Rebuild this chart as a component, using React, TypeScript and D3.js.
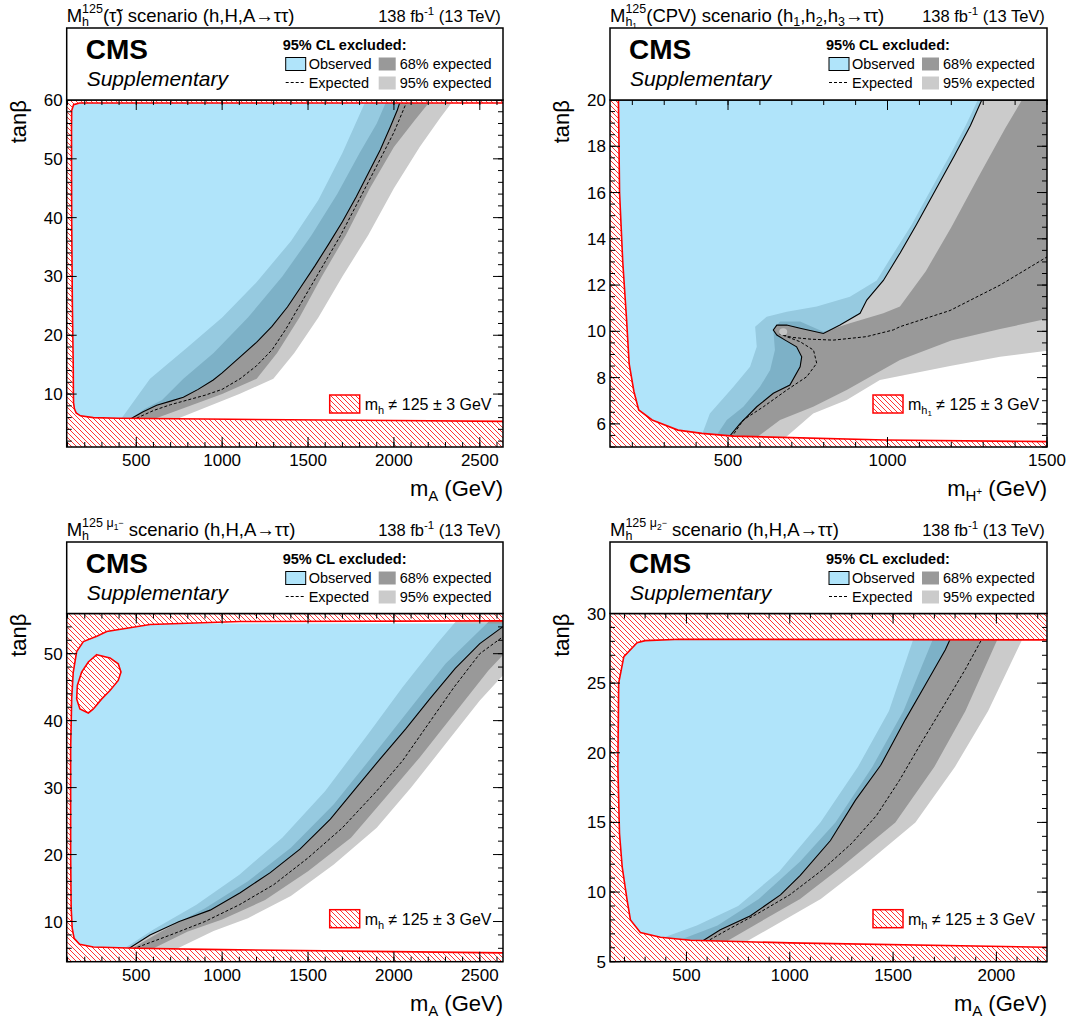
import React from "react";
import * as d3 from "d3";

type P = [number, number];

const FONT = "'Liberation Sans', Arial, Helvetica, sans-serif";
const C95 = "#cbcbcb";
const C68 = "#999999";
const OBS = "rgb(97,201,245)";
const OBS_A = 0.5;
const RED = "#ff0000";

// ---------- Panel A : Mh125(tau~) ----------
const aXTicks = [500, 1000, 1500, 2000, 2500];
const aYTicks = [10, 20, 30, 40, 50, 60];
const aObs: P[] = [[473,5.9],[540,7.0],[619,8.1],[700,8.8],[774,9.45],[860,10.8],[948,12.4],[1000,13.6],[1100,16.2],[1200,18.8],[1290,21.5],[1380,24.8],[1460,28.3],[1540,31.8],[1620,35.5],[1700,39.3],[1780,43.5],[1850,47.5],[1920,51.5],[1980,55.5],[2020,58.3],[2041,60.2]];
const aExp: P[] = [[502,5.9],[600,7.2],[700,8.2],[800,9],[900,9.8],[1000,10.8],[1104,12.6],[1200,14.8],[1290,17.5],[1370,21],[1450,25],[1530,29],[1610,33],[1690,37],[1770,41.5],[1850,46],[1930,50.5],[2000,54.5],[2082,60.2]];
const a68Lo: P[] = [[452,5.5],[550,7.5],[650,9.0],[774,12.6],[950,17],[1150,23],[1350,30],[1520,37],[1670,44],[1800,51],[1900,56],[1962,60.2]];
const a68Hi: P[] = [[580,5.5],[1000,10],[1201,12.6],[1320,17],[1450,23],[1580,30],[1720,37],[1860,45],[2000,52],[2120,56.5],[2222,60.2]];
const a95Lo: P[] = [[405,5.5],[580,12.6],[800,18],[1000,23],[1200,29],[1400,36],[1560,43],[1700,51],[1841,60.2]];
const a95Hi: P[] = [[714,5.5],[1100,10],[1298,12.6],[1420,17],[1560,23],[1700,30],[1850,37],[2000,45],[2150,52],[2270,57],[2353,60.2]];
const aAllowed: P[] = [[2700,59.5],[170,59.5],[135,59.2],[124,58.2],[123,55],[124,40],[128,25],[133,15],[134,10],[135,8.5],[140,7.5],[150,6.8],[175,6.3],[250,6.0],[400,5.9],[900,5.75],[2000,5.5],[2700,5.35]];

// ---------- Panel B : Mh1125(CPV) ----------
const bXTicks = [500, 1000, 1500];
const bYTicks = [6, 8, 10, 12, 14, 16, 18, 20];
const bObs: P[] = [[501,5.4],[537,6.0],[590,6.74],[642,7.32],[694,7.68],[726,8.47],[731,8.9],[715,9.33],[679,9.62],[653,9.84],[642,10.06],[653,10.27],[684,10.27],[726,10.13],[799,9.91],[851,10.27],[914,10.78],[935,11.35],[987,12.2],[1040,13.4],[1090,14.6],[1150,16.1],[1210,17.6],[1260,18.9],[1302,20.2]];
const bExp: P[] = [[510,5.4],[548,6.17],[611,6.74],[684,7.46],[747,8.04],[778,8.62],[768,9.19],[726,9.55],[684,9.77],[662,9.88],[700,9.74],[760,9.66],[830,9.62],[934,9.77],[1018,10.06],[1039,10.2],[1196,10.9],[1353,12],[1510,13.3]];
const b68Lo: P[] = [[454,5.3],[496,6.17],[548,6.74],[600,7.6],[632,8.33],[647,9.19],[642,10.06],[663,10.42],[726,10.42],[799,9.98],[882,10.35],[987,10.78],[1039,11.07],[1120,12.6],[1200,14.5],[1290,16.8],[1370,18.8],[1430,20.2]];
const b68Hi: P[] = [[569,5.2],[663,6.17],[767,6.74],[872,7.46],[1039,8.76],[1200,9.6],[1353,10.1],[1520,10.6],[1600,21]];
const b95Lo: P[] = [[412,5.3],[443,6.45],[517,7.6],[569,8.47],[590,9.33],[585,10.2],[621,10.63],[684,10.85],[778,11.07],[882,11.5],[966,12.2],[1020,13.4],[1075,14.6],[1135,16.1],[1195,17.6],[1245,18.9],[1290,20.2]];
const b95Hi: P[] = [[663,5.2],[767,6.45],[872,7.03],[976,7.9],[1196,8.5],[1353,8.9],[1520,9.2],[1600,21]];
const bAllowed: P[] = [[1600,20.5],[156,20.5],[160,16],[170,13],[182,10.5],[190,8.6],[205,7.4],[220,6.6],[262,6.17],[343,5.73],[418,5.59],[517,5.47],[993,5.3],[1600,5.22]];
const bSpot: P[] = [[673,9.98]];

// ---------- Panel C : Mh125 mu1- ----------
const cXTicks = [500, 1000, 1500, 2000, 2500];
const cYTicks = [10, 20, 30, 40, 50];
const cObs: P[] = [[452,5.9],[580,8],[750,10],[930,11.7],[1105,14.3],[1280,17.3],[1453,20.8],[1630,25.3],[1775,29.8],[1920,34.3],[2070,38.8],[2210,43.3],[2357,47.8],[2500,51.5],[2660,54.5]];
const cExp: P[] = [[480,5.9],[700,8],[900,10],[1100,12.5],[1300,15.5],[1500,19.5],[1700,24],[1900,29.5],[2050,34],[2200,39.5],[2350,45],[2500,50],[2660,53]];
const c68Lo: P[] = [[440,5.5],[650,8.6],[900,12],[1150,16],[1400,21],[1650,27.5],[1900,35.5],[2100,42],[2300,48.5],[2500,53.5],[2600,56]];
const c68Hi: P[] = [[560,5.5],[800,8.5],[1000,10.3],[1250,13.2],[1500,17.5],[1750,22.5],[1950,28.5],[2150,34.5],[2350,41],[2550,47.5],[2660,50.5],[2700,57]];
const c95Lo: P[] = [[400,5.5],[600,8.8],[850,12.5],[1100,17],[1350,22.5],[1600,29.5],[1850,38],[2050,45],[2250,51.5],[2400,56]];
const c95Hi: P[] = [[700,5.5],[950,8.6],[1150,10.5],[1400,13.8],[1650,18.5],[1900,24],[2100,30],[2300,36.5],[2500,43],[2660,47.5],[2700,57]];
const cAllowed: P[] = [[2700,54.9],[1105,54.8],[580,54.35],[328,53.3],[270,52.6],[192,51.8],[153,50.3],[133,47.2],[124,43.3],[118,35.8],[118,20],[121,12],[127,9],[138,7.5],[170,6.6],[250,6.2],[500,6.0],[1000,5.8],[2000,5.5],[2700,5.3]];
const cIsland: P[] = [[270,49.85],[347,49.36],[395,48.5],[411,47.26],[395,46],[347,44.5],[299,43.25],[250,41.75],[221,41.15],[172,41.75],[153,43.25],[157,45.25],[182,47.26],[221,48.76]];

// ---------- Panel D : Mh125 mu2- ----------
const dXTicks = [500, 1000, 1500, 2000];
const dYTicks = [5, 10, 15, 20, 25, 30];
const dObs: P[] = [[568,6.4],[664,7.3],[810,8.3],[955,9.8],[1051,11.2],[1197,13.7],[1318,16.6],[1440,19.1],[1560,22.4],[1657,24.9],[1753,27.4],[1790,28.6]];
const dExp: P[] = [[592,6.4],[700,7.3],[850,8.5],[1000,9.8],[1150,11.5],[1300,13.5],[1420,15.5],[1530,18],[1640,20.8],[1750,23.5],[1850,26],[1946,28.6]];
const d68Lo: P[] = [[423,6.3],[650,7.6],[850,9.5],[1050,12.2],[1221,15],[1400,19],[1550,23],[1705,28.6]];
const d68Hi: P[] = [[664,6.2],[850,7.8],[1050,9.5],[1250,11.8],[1511,15],[1700,19],[1850,23],[2019,28.6]];
const d95Lo: P[] = [[326,6.4],[550,7.6],[750,9],[950,11.5],[1148,15],[1330,19],[1480,23],[1608,28.6]];
const d95Hi: P[] = [[761,6.2],[950,7.8],[1150,9.5],[1350,11.8],[1608,15],[1800,19],[1960,23],[2140,28.6]];
const dAllowed: P[] = [[2400,28.1],[471,28.15],[300,28.05],[261,27.9],[197,26.9],[172,25],[168,19],[176,14.2],[189,11.8],[213,9.4],[229,8.0],[277,7.1],[374,6.76],[519,6.54],[1000,6.35],[2400,6.0]];

// ---------- text metrics (Arial/Liberation Sans) ----------
const WID: Record<string, number> = {
  "0": .556, "1": .556, "2": .556, "3": .556, "4": .556, "5": .556, "6": .556, "7": .556, "8": .556, "9": .556,
  " ": .278, "(": .333, ")": .333, ",": .278, "M": .833, "H": .722, "A": .667, "C": .722, "P": .667, "V": .667,
  "T": .611, "G": .778, "e": .556, "s": .5, "c": .5, "n": .556, "a": .556, "r": .333, "i": .222, "o": .556,
  "h": .556, "m": .833, "f": .278, "b": .556, "τ": .46, "→": 1.0, "≠": .584, "±": .584, "−": .584, "+": .584,
  "μ": .576, "-": .333, "\u0303": 0,
};
const tw = (s: string, size: number) => { let w = 0; for (const ch of s) w += (WID[ch] ?? .556); return w * size; };

type Txt = { t: string; s: number; dy?: number };
type Grp = { up: Seg[]; down: Seg[] };
type Seg = Txt | Grp;
type Item = { t: string; s: number; dy: number; x: number };

function place(segs: Seg[], start: number, out: Item[]): number {
  let cx = start;
  for (const g of segs) {
    if ("up" in g) {
      const a = place(g.up, cx, out);
      const b = place(g.down, cx, out);
      cx = Math.max(a, b);
    } else {
      out.push({ t: g.t, s: g.s, dy: g.dy || 0, x: cx });
      cx += tw(g.t, g.s);
    }
  }
  return cx;
}

function Rich({ x, y, segs, anchor = "start" }: { x: number; y: number; segs: Seg[]; anchor?: string }) {
  const items: Item[] = [];
  const total = place(segs, 0, items);
  const x0 = anchor === "end" ? x - total : anchor === "middle" ? x - total / 2 : x;
  return (
    <g>
      {items.map((it, i) => (
        <text key={i} x={x0 + it.x} y={y + it.dy} fontSize={it.s} fontFamily={FONT} style={{ whiteSpace: "pre" }}>{it.t}</text>
      ))}
    </g>
  );
}

interface Cfg {
  id: string; left: number; right: number; top: number; bottom: number; boxTop: number;
  xDomain: [number, number]; yDomain: [number, number];
  xTicks: number[]; xMinor: number; yTicks: number[]; yMinor: number;
  obs: P[]; exp: P[]; b68: [P[], P[]]; b95: [P[], P[]]; allowed: P[]; islands: P[][]; spots: P[];
  title: Seg[]; xTitle: Seg[]; hatchLabel: Seg[];
}

function Panel({ c }: { c: Cfg }) {
  const x = d3.scaleLinear().domain(c.xDomain).range([c.left, c.right]);
  const y = d3.scaleLinear().domain(c.yDomain).range([c.bottom, c.top]);
  const line = d3.line<P>().x(d => x(d[0])).y(d => y(d[1]));
  const ring = (pts: P[]) => (line(pts) || "") + "Z";
  const [x0, x1] = c.xDomain; const [y0, y1] = c.yDomain;
  const band = (lo: P[], hi: P[]) => ring([...lo, ...hi.slice().reverse()]);
  const last = c.obs[c.obs.length - 1];
  const obsPoly = ring([...c.obs, [x0 - 100, last[1]], [x0 - 100, y0 - 2]]);
  const rect = `M${c.left},${c.top}H${c.right}V${c.bottom}H${c.left}Z`;
  const hatchPath = rect + ring(c.allowed) + c.islands.map(ring).join("");
  const clip = `clip-${c.id}`;
  const xMinorTicks = d3.range(Math.ceil(x0 / c.xMinor) * c.xMinor, x1 + 1e-9, c.xMinor);
  const yMinorTicks = d3.range(Math.ceil(y0 / c.yMinor - 1e-9) * c.yMinor, y1 + 1e-9, c.yMinor);
  const L = c.left;
  const bt = c.boxTop;
  return (
    <g>
      <defs>
        <clipPath id={clip}><rect x={c.left} y={c.top} width={c.right - c.left} height={c.bottom - c.top} /></clipPath>
      </defs>
      <g clipPath={`url(#${clip})`}>
        <rect x={c.left} y={c.top} width={c.right - c.left} height={c.bottom - c.top} fill="#fff" />
        <path d={band(c.b95[0], c.b95[1])} fill={C95} />
        <path d={band(c.b68[0], c.b68[1])} fill={C68} />
        <path d={obsPoly} fill={OBS} fillOpacity={OBS_A} />
        <path d={line(c.obs) || ""} fill="none" stroke="#000" strokeWidth={1.1} />
        <path d={line(c.exp) || ""} fill="none" stroke="#000" strokeWidth={1} strokeDasharray="3,2" />
        {c.spots.map((s, i) => <ellipse key={i} cx={x(s[0])} cy={y(s[1])} rx={4} ry={3.5} fill="#c4c4c4" />)}
        <path d={hatchPath} fill="url(#hatch)" fillRule="evenodd" />
        <path d={ring(c.allowed)} fill="none" stroke={RED} strokeWidth={1.6} />
        {c.islands.map((isl, i) => <path key={i} d={ring(isl)} fill="none" stroke={RED} strokeWidth={1.6} />)}
      </g>
      <g stroke="#000" strokeWidth={1}>
        {xMinorTicks.map(v => (
          <g key={"xm" + v}>
            <line x1={x(v)} x2={x(v)} y1={c.bottom} y2={c.bottom - 5} />
            <line x1={x(v)} x2={x(v)} y1={c.top} y2={c.top + 5} />
          </g>
        ))}
        {c.xTicks.map(v => (
          <g key={"xM" + v}>
            <line x1={x(v)} x2={x(v)} y1={c.bottom} y2={c.bottom - 10} />
            <line x1={x(v)} x2={x(v)} y1={c.top} y2={c.top + 10} />
          </g>
        ))}
        {yMinorTicks.map(v => (
          <g key={"ym" + v}>
            <line x1={c.left} x2={c.left + 5} y1={y(v)} y2={y(v)} />
            <line x1={c.right} x2={c.right - 5} y1={y(v)} y2={y(v)} />
          </g>
        ))}
        {c.yTicks.map(v => (
          <g key={"yM" + v}>
            <line x1={c.left} x2={c.left + 10} y1={y(v)} y2={y(v)} />
            <line x1={c.right} x2={c.right - 10} y1={y(v)} y2={y(v)} />
          </g>
        ))}
      </g>
      <rect x={c.left} y={c.top} width={c.right - c.left} height={c.bottom - c.top} fill="none" stroke="#000" strokeWidth={1.5} />
      {c.xTicks.map(v => (
        <text key={"xl" + v} x={x(v)} y={c.bottom + 19} textAnchor="middle" fontSize={17} fontFamily={FONT}>{v}</text>
      ))}
      {c.yTicks.map(v => (
        <text key={"yl" + v} x={c.left - 4} y={y(v) + 6} textAnchor="end" fontSize={17} fontFamily={FONT}>{v}</text>
      ))}
      <text transform={`translate(${c.left - 41},${c.top}) rotate(-90)`} textAnchor="end" fontSize={22} fontFamily={FONT}>tanβ</text>
      <Rich x={c.right} y={c.bottom + 49} segs={c.xTitle} anchor="end" />
      <Rich x={c.left} y={bt - 6.5} segs={c.title} />
      <Rich x={c.right} y={bt - 6.5} anchor="end" segs={[{ t: "138 fb", s: 16.5 }, { t: "-1", s: 11.5, dy: -7 }, { t: " (13 TeV)", s: 16.5 }]} />
      <rect x={c.left} y={bt} width={c.right - c.left} height={c.top - bt} fill="#fff" stroke="#000" strokeWidth={1.5} />
      <text x={L + 19} y={bt + 31} fontSize={28} fontWeight="bold" fontFamily={FONT}>CMS</text>
      <text x={L + 20} y={bt + 58} fontSize={21} fontStyle="italic" fontFamily={FONT}>Supplementary</text>
      <text x={L + 216} y={bt + 21.5} fontSize={14.5} fontWeight="bold" fontFamily={FONT}>95% CL excluded:</text>
      <rect x={L + 219} y={bt + 29.5} width={20} height={13} fill={OBS} fillOpacity={OBS_A} stroke="#000" strokeWidth={1} />
      <text x={L + 242} y={bt + 40.5} fontSize={14.5} fontFamily={FONT}>Observed</text>
      <line x1={L + 219} x2={L + 239} y1={bt + 54.5} y2={bt + 54.5} stroke="#000" strokeWidth={1} strokeDasharray="3,2" />
      <text x={L + 242} y={bt + 59.5} fontSize={14.5} fontFamily={FONT}>Expected</text>
      <rect x={L + 312} y={bt + 29.5} width={17} height={13} fill={C68} />
      <text x={L + 333} y={bt + 40.5} fontSize={14.5} fontFamily={FONT}>68% expected</text>
      <rect x={L + 312} y={bt + 48.5} width={17} height={13} fill={C95} />
      <text x={L + 333} y={bt + 59.5} fontSize={14.5} fontFamily={FONT}>95% expected</text>
      <rect x={L + 263} y={c.bottom - 52} width={30} height={18} fill="url(#hatch)" stroke={RED} strokeWidth={1.5} />
      <Rich x={L + 298} y={c.bottom - 37} segs={c.hatchLabel} />
    </g>
  );
}

const TS = 18.5, SS = 12.5;
const titleA: Seg[] = [{ t: "M", s: TS }, { up: [{ t: "125", s: SS, dy: -8.5 }], down: [{ t: "h", s: SS, dy: 4.5 }] }, { t: "(τ\u0303) scenario (h,H,A→ττ)", s: TS }];
const titleB: Seg[] = [{ t: "M", s: TS }, { up: [{ t: "125", s: SS, dy: -8.5 }], down: [{ t: "h", s: SS, dy: 4.5 }, { t: "1", s: 8.5, dy: 7 }] }, { t: "(CPV) scenario (h", s: TS }, { t: "1", s: SS, dy: 4.5 }, { t: ",h", s: TS }, { t: "2", s: SS, dy: 4.5 }, { t: ",h", s: TS }, { t: "3", s: SS, dy: 4.5 }, { t: "→ττ)", s: TS }];
const titleC: Seg[] = [{ t: "M", s: TS }, { up: [{ t: "125 μ", s: SS, dy: -8.5 }, { t: "1", s: 8.5, dy: -5.5 }, { t: "−", s: 9, dy: -10 }], down: [{ t: "h", s: SS, dy: 4.5 }] }, { t: " scenario (h,H,A→ττ)", s: TS }];
const titleD: Seg[] = [{ t: "M", s: TS }, { up: [{ t: "125 μ", s: SS, dy: -8.5 }, { t: "2", s: 8.5, dy: -5.5 }, { t: "−", s: 9, dy: -10 }], down: [{ t: "h", s: SS, dy: 4.5 }] }, { t: " scenario (h,H,A→ττ)", s: TS }];
const xTitleA: Seg[] = [{ t: "m", s: 22 }, { t: "A", s: 15, dy: 5 }, { t: " (GeV)", s: 22 }];
const xTitleB: Seg[] = [{ t: "m", s: 22 }, { t: "H", s: 15, dy: 5 }, { t: "+", s: 10, dy: -1 }, { t: " (GeV)", s: 22 }];
const hatchA: Seg[] = [{ t: "m", s: 16 }, { t: "h", s: 11, dy: 4 }, { t: " ≠ 125 ± 3 GeV", s: 16 }];
const hatchB: Seg[] = [{ t: "m", s: 16 }, { t: "h", s: 11, dy: 4 }, { t: "1", s: 8, dy: 6 }, { t: " ≠ 125 ± 3 GeV", s: 16 }];

const TOP_G = { top: 100, bottom: 447, boxTop: 28 };
const BOT_G = { top: 613.5, bottom: 961.7, boxTop: 542 };

const panels: Cfg[] = [
  { id: "a", left: 66.7, right: 503, ...TOP_G, xDomain: [95, 2635], yDomain: [1, 60], xTicks: aXTicks, xMinor: 100, yTicks: aYTicks, yMinor: 2,
    obs: aObs, exp: aExp, b68: [a68Lo, a68Hi], b95: [a95Lo, a95Hi], allowed: aAllowed, islands: [], spots: [], title: titleA, xTitle: xTitleA, hatchLabel: hatchA },
  { id: "b", left: 610, right: 1047, ...TOP_G, xDomain: [130, 1500], yDomain: [5, 20], xTicks: bXTicks, xMinor: 100, yTicks: bYTicks, yMinor: 0.5,
    obs: bObs, exp: bExp, b68: [b68Lo, b68Hi], b95: [b95Lo, b95Hi], allowed: bAllowed, islands: [], spots: bSpot, title: titleB, xTitle: xTitleB, hatchLabel: hatchB },
  { id: "c", left: 66.7, right: 503, ...BOT_G, xDomain: [95, 2635], yDomain: [4, 56], xTicks: cXTicks, xMinor: 100, yTicks: cYTicks, yMinor: 2,
    obs: cObs, exp: cExp, b68: [c68Lo, c68Hi], b95: [c95Lo, c95Hi], allowed: cAllowed, islands: [cIsland], spots: [], title: titleC, xTitle: xTitleA, hatchLabel: hatchA },
  { id: "d", left: 610, right: 1047, ...BOT_G, xDomain: [130, 2245], yDomain: [5, 30], xTicks: dXTicks, xMinor: 100, yTicks: dYTicks, yMinor: 1,
    obs: dObs, exp: dExp, b68: [d68Lo, d68Hi], b95: [d95Lo, d95Hi], allowed: dAllowed, islands: [], spots: [], title: titleD, xTitle: xTitleA, hatchLabel: hatchA },
];

export default function App() {
  return (
    <div style={{ position: "absolute", left: 0, top: 0 }}>
      <svg width={1075} height={1024} viewBox="0 0 1075 1024" style={{ display: "block", background: "#fff" }}>
        <defs>
          <pattern id="hatch" width={5} height={5} patternUnits="userSpaceOnUse">
            <rect width={5} height={5} fill="#fff" />
            <path d="M0,0L5,5M-1,4L1,6M4,-1L6,1" stroke={RED} strokeWidth={0.8} />
          </pattern>
        </defs>
        <rect width={1075} height={1024} fill="#fff" />
        {panels.map(p => <Panel key={p.id} c={p} />)}
      </svg>
    </div>
  );
}
